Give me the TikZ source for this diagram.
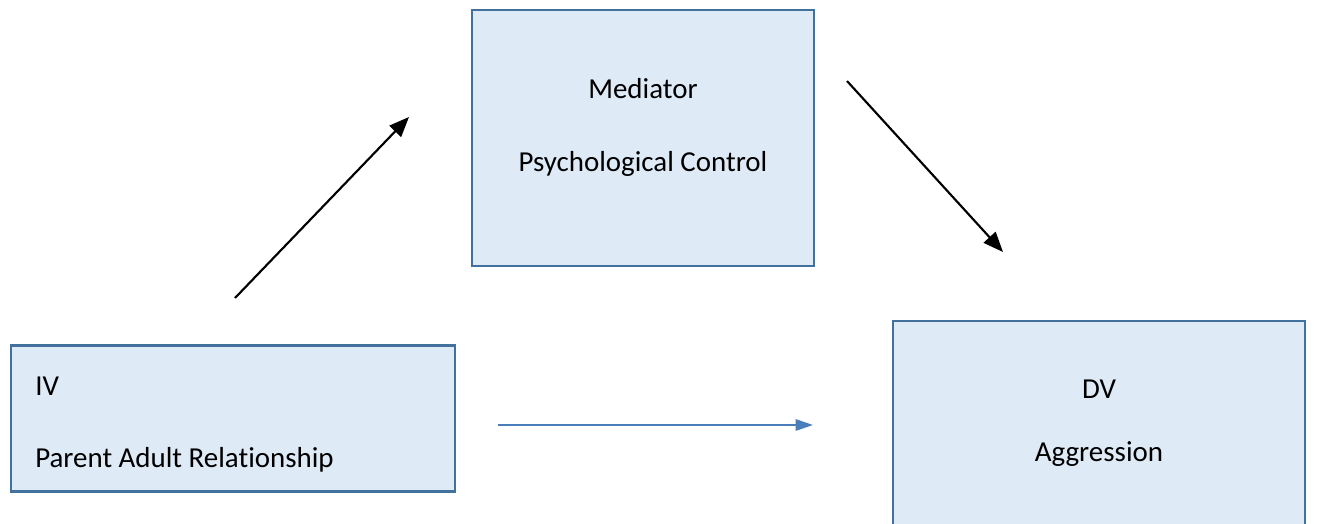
\documentclass[tikz,border=0pt]{standalone}
\usepackage{fontspec}
\setmainfont{Carlito}[Ligatures=NoCommon]
\usetikzlibrary{arrows.meta}
\definecolor{boxfill}{HTML}{DEEAF6}
\definecolor{boxline}{HTML}{41719C}
\definecolor{flow}{HTML}{4A7EBB}
\tikzset{
  box/.style={draw=boxline, fill=boxfill, line width=2.2pt, inner sep=0pt},
  txt/.style={inner sep=0pt, font=\fontsize{21.7}{26}\selectfont},
}
\begin{document}
\begin{tikzpicture}[x=0.75pt,y=-0.75pt]
\useasboundingbox (0,0) rectangle (1317,524);
% cadres
\node[box, minimum width=333pt, minimum height=110pt] (iv) at (233,418.5) {};
\node[box, minimum width=256.5pt, minimum height=192pt] (med) at (643,138) {};
\node[box, minimum width=309pt, minimum height=165pt] (dv) at (1099,431) {};
% textes
\node[txt, anchor=base west] (ivname) at (35,395) {IV};
\node[txt, anchor=base west] (ivtext) at (35,467) {Parent Adult Relationship};
\node[txt, anchor=base] (medname) at (643,99) {Mediator};
\node[txt, anchor=base] (medtext) at (643,172) {Psychological Control};
\node[txt, anchor=base] (dvname) at (1099,398) {DV};
\node[txt, anchor=base] (dvtext) at (1099,461) {Aggression};
% fleches
\coordinate (a1) at (235,298);
\coordinate (a2) at (409,117);
\coordinate (b1) at (847,81);
\coordinate (b2) at (1003,252);
\coordinate (c1) at (498,425);
\coordinate (c2) at (813,425);
\begin{scope}[line width=1.6pt, -{Triangle[length=15pt,width=12pt]}]
    \draw (a1) -- (a2);
    \draw (b1) -- (b2);
\end{scope}
\draw[flow, line width=1.4pt, -{Triangle[length=13pt,width=8.5pt]}] (c1) -- (c2);
\end{tikzpicture}
\end{document}
